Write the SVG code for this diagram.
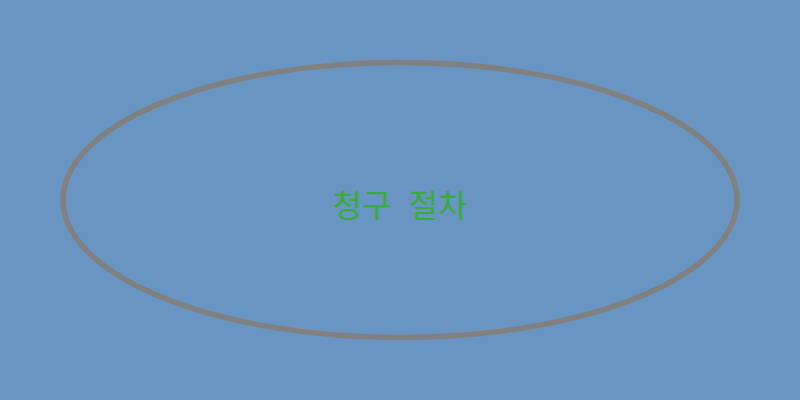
<svg xmlns="http://www.w3.org/2000/svg" width="800" height="400" viewBox="0 0 800 400">
<style>
.node-shape{fill:none;stroke:#808080;stroke-width:5.5}
.label{font-family:"Noto Sans CJK KR","Noto Sans",sans-serif;font-size:32px;word-spacing:10px;fill:#3aaa3a;text-anchor:middle;dominant-baseline:central}
</style>
<rect width="800" height="400" fill="#6895c2"/>
<g id="connectors"></g>
<g id="node-claim">
<ellipse class="node-shape" cx="400" cy="200" rx="337" ry="137.5"/>
<text class="label" x="400" y="203">청구 절차</text>
</g>
</svg>
